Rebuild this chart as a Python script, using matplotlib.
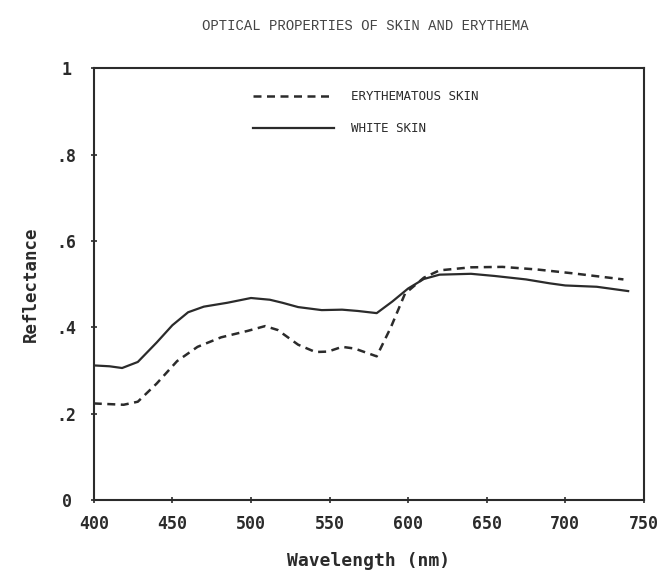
import matplotlib
matplotlib.use("Agg")
import matplotlib.pyplot as plt

# White skin reflectance (solid line)
white_nm = [400, 410, 418, 428, 440, 450, 460, 470, 485, 500, 512, 520, 530, 545,
            558, 568, 580, 590, 600, 610, 620, 640, 655, 675, 690, 700, 720, 740]
white_refl = [0.312, 0.310, 0.306, 0.320, 0.365, 0.405, 0.435, 0.448, 0.457, 0.468,
              0.464, 0.457, 0.447, 0.440, 0.441, 0.438, 0.433, 0.460, 0.490, 0.512,
              0.522, 0.524, 0.519, 0.511, 0.502, 0.497, 0.494, 0.484]

# Erythematous skin reflectance (dashed line)
ery_nm = [400, 419, 428, 440, 453, 466, 481, 498, 509, 517, 530, 541, 549, 558,
          566, 580, 589, 598, 610, 620, 640, 660, 682, 705, 737]
ery_refl = [0.224, 0.221, 0.228, 0.270, 0.322, 0.355, 0.377, 0.392, 0.403, 0.394,
            0.360, 0.343, 0.344, 0.355, 0.351, 0.333, 0.400, 0.478, 0.515, 0.532,
            0.539, 0.540, 0.534, 0.525, 0.511]

x_ticks = [400, 450, 500, 550, 600, 650, 700, 750]
y_ticks = [0, 0.2, 0.4, 0.6, 0.8, 1.0]
y_tick_labels = ["0", ".2", ".4", ".6", ".8", "1"]

ink = "#2b2b2b"
mono = "DejaVu Sans Mono"

fig = plt.figure(figsize=(6.7, 5.77), dpi=100)
ax = fig.add_axes([0.140, 0.133, 0.821, 0.749])

ax.plot(ery_nm, ery_refl, color=ink, lw=1.8, ls=(0, (3.2, 2.2)), label="ERYTHEMATOUS SKIN")
ax.plot(white_nm, white_refl, color=ink, lw=1.6, label="WHITE SKIN")

ax.set_xlim(400, 750)
ax.set_ylim(0, 1)
ax.set_xticks(x_ticks)
ax.set_yticks(y_ticks)
ax.set_yticklabels(y_tick_labels)

for s in ax.spines.values():
    s.set_color(ink)
    s.set_linewidth(1.5)

ax.tick_params(direction="inout", length=5, width=1.2, color=ink,
               labelsize=12, labelcolor=ink)
ax.tick_params(axis="x", pad=8)
ax.tick_params(axis="y", pad=17)
for lbl in ax.get_xticklabels() + ax.get_yticklabels():
    lbl.set_fontfamily(mono)
    lbl.set_fontweight("bold")
for lbl in ax.get_yticklabels():
    lbl.set_horizontalalignment("center")

ax.set_xlabel("Wavelength (nm)", fontsize=13, fontweight="bold",
              family=mono, color=ink, labelpad=14)
ax.set_ylabel("Reflectance", fontsize=12.5, fontweight="bold",
              family=mono, color=ink, labelpad=12)

fig.text(0.545, 0.955, "OPTICAL PROPERTIES OF SKIN AND ERYTHEMA", ha="center",
         va="center", fontsize=10, family="Liberation Mono", color="#444444")

leg = ax.legend(loc="upper left", bbox_to_anchor=(0.289, 0.949), frameon=False,
                borderaxespad=0, borderpad=0, handlelength=6.5,
                handletextpad=1.35, labelspacing=1.5,
                prop={"family": mono, "size": 9})
for t in leg.get_texts():
    t.set_color(ink)

fig.savefig("out.png", dpi=100)
